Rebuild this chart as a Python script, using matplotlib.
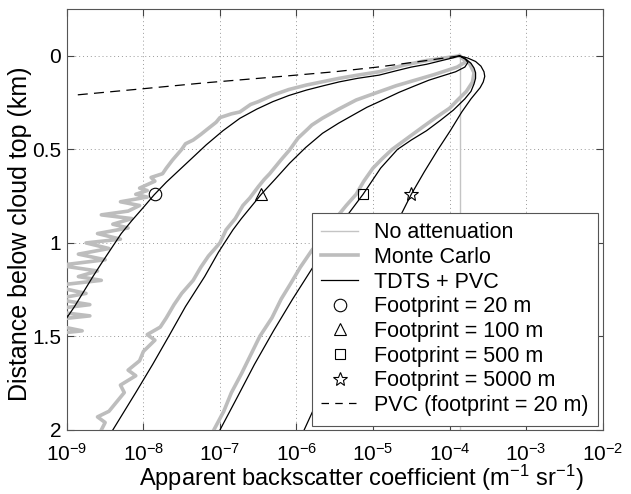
import numpy as np
import matplotlib
matplotlib.use("Agg")
import matplotlib.pyplot as plt
from matplotlib.lines import Line2D

plt.rcParams['font.family'] = ['Liberation Sans', 'DejaVu Sans']
plt.rcParams['mathtext.fontset'] = 'custom'
plt.rcParams['mathtext.rm'] = 'Liberation Sans'
plt.rcParams['mathtext.it'] = 'Liberation Sans'

# (log10 backscatter, depth km)
no_atten_log = -3.86

tdts_20 = [(-3.87, 0.0), (-3.95, 0.01), (-4.1, 0.025), (-4.3, 0.045), (-4.5, 0.06),
           (-4.7, 0.08), (-4.92, 0.103), (-5.2, 0.12), (-5.44, 0.139), (-5.65, 0.16),
           (-5.87, 0.183), (-6.1, 0.212), (-6.31, 0.245), (-6.52, 0.285), (-6.74, 0.334),
           (-6.96, 0.4), (-7.18, 0.476), (-7.36, 0.545), (-7.53, 0.61), (-7.7, 0.675),
           (-7.86, 0.743), (-8.0, 0.81), (-8.15, 0.88), (-8.29, 0.95), (-8.42, 1.03),
           (-8.55, 1.11), (-8.66, 1.18), (-8.78, 1.26), (-8.9, 1.34), (-9.0, 1.40),
           (-9.1, 1.47)]
tdts_100 = [(-3.87, 0.0), (-3.8, 0.015), (-3.76, 0.035), (-3.8, 0.06), (-3.92, 0.085),
            (-4.1, 0.108), (-4.27, 0.13), (-4.47, 0.163), (-4.66, 0.195), (-4.92, 0.245),
            (-5.08, 0.275), (-5.22, 0.307), (-5.45, 0.36), (-5.66, 0.414), (-5.88, 0.49),
            (-6.09, 0.574), (-6.28, 0.66), (-6.46, 0.74), (-6.6, 0.81), (-6.72, 0.87),
            (-6.83, 0.93), (-7.02, 1.05), (-7.2, 1.18), (-7.45, 1.34), (-7.67, 1.5),
            (-7.88, 1.65), (-8.1, 1.8), (-8.4, 2.0)]
tdts_500 = [(-3.87, 0.0), (-3.78, 0.02), (-3.72, 0.04), (-3.68, 0.065), (-3.66, 0.09),
            (-3.66, 0.12), (-3.68, 0.15), (-3.72, 0.19), (-3.8, 0.23), (-3.95, 0.29),
            (-4.12, 0.345), (-4.3, 0.4), (-4.5, 0.45), (-4.68, 0.5), (-4.9, 0.6),
            (-5.13, 0.74), (-5.35, 0.86), (-5.55, 0.99), (-5.77, 1.12), (-6.05, 1.3),
            (-6.3, 1.47), (-6.55, 1.65), (-6.78, 1.83), (-7.0, 2.0)]
tdts_5000 = [(-3.87, 0.0), (-3.76, 0.012), (-3.66, 0.03), (-3.59, 0.055), (-3.55, 0.085),
             (-3.54, 0.11), (-3.56, 0.14), (-3.6, 0.17), (-3.66, 0.2), (-3.72, 0.23),
             (-3.84, 0.3), (-3.99, 0.4), (-4.15, 0.5), (-4.33, 0.62), (-4.5, 0.74),
             (-4.66, 0.87), (-4.8, 1.0), (-5.07, 1.25), (-5.35, 1.5), (-5.62, 1.75),
             (-5.9, 2.0)]

mc_20 = [(-3.87, 0.0), (-4.3, 0.025), (-4.6, 0.05), (-4.92, 0.085), (-5.2, 0.103),
         (-5.44, 0.12), (-5.87, 0.156), (-6.1, 0.18), (-6.31, 0.21), (-6.5, 0.245),
         (-6.6, 0.26), (-6.74, 0.3), (-6.85, 0.31), (-7.0, 0.33), (-7.05, 0.355),
         (-7.18, 0.397), (-7.25, 0.42), (-7.35, 0.45), (-7.45, 0.47), (-7.5, 0.5),
         (-7.62, 0.557), (-7.7, 0.6), (-7.75, 0.63), (-7.9, 0.65), (-7.85, 0.67),
         (-8.05, 0.707), (-7.95, 0.72), (-8.1, 0.74), (-7.95, 0.755), (-8.3, 0.78),
         (-8.05, 0.8), (-8.2, 0.83), (-8.55, 0.85), (-8.15, 0.87), (-8.4, 0.9),
         (-8.2, 0.92), (-8.6, 0.95), (-8.3, 0.98), (-8.75, 1.0), (-8.45, 1.03),
         (-8.85, 1.06), (-8.5, 1.09), (-9.1, 1.12), (-8.6, 1.15), (-8.85, 1.18),
         (-8.55, 1.2), (-9.2, 1.23), (-8.75, 1.27), (-9.15, 1.3), (-8.7, 1.33),
         (-9.3, 1.36), (-8.7, 1.39), (-9.4, 1.42), (-8.8, 1.47), (-9.5, 1.5),
         (-9.15, 1.56), (-9.6, 1.6)]
mc_100 = [(-3.87, 0.0), (-3.78, 0.03), (-3.9, 0.06), (-4.2, 0.1), (-4.45, 0.13),
          (-4.7, 0.16), (-4.92, 0.192), (-5.22, 0.236), (-5.45, 0.285), (-5.66, 0.333),
          (-5.8, 0.37), (-5.85, 0.39), (-5.98, 0.44), (-6.09, 0.503), (-6.2, 0.555),
          (-6.31, 0.61), (-6.35, 0.63), (-6.42, 0.66), (-6.5, 0.7), (-6.61, 0.76),
          (-6.7, 0.8), (-6.8, 0.87), (-6.92, 0.93), (-7.0, 1.0), (-7.15, 1.07),
          (-7.25, 1.13), (-7.35, 1.2), (-7.5, 1.27), (-7.6, 1.33), (-7.7, 1.4),
          (-7.78, 1.45), (-7.95, 1.49), (-7.85, 1.52), (-8.0, 1.58), (-8.05, 1.63),
          (-8.2, 1.68), (-8.1, 1.71), (-8.3, 1.76), (-8.25, 1.8), (-8.35, 1.85),
          (-8.45, 1.9), (-8.6, 1.93), (-8.5, 1.96), (-8.55, 2.0)]
mc_500 = [(-3.87, 0.0), (-3.74, 0.04), (-3.68, 0.09), (-3.7, 0.14), (-3.78, 0.19),
          (-3.88, 0.23), (-4.0, 0.28), (-4.18, 0.33), (-4.35, 0.38), (-4.55, 0.44),
          (-4.75, 0.5), (-4.88, 0.55), (-5.0, 0.6), (-5.12, 0.67), (-5.22, 0.74),
          (-5.35, 0.8), (-5.45, 0.85), (-5.62, 0.95), (-5.8, 1.04), (-5.95, 1.13),
          (-6.08, 1.22), (-6.2, 1.3), (-6.32, 1.4), (-6.48, 1.5), (-6.6, 1.6),
          (-6.72, 1.7), (-6.85, 1.8), (-6.95, 1.9), (-7.08, 2.0)]

pvc_20 = [(-3.87, 0.0), (-4.3, 0.025), (-4.92, 0.059), (-5.5, 0.085), (-6.2, 0.11),
          (-7.22, 0.145), (-7.96, 0.174), (-8.9, 0.21)]

marker_depth = 0.74
footprints = ['20', '100', '500', '5000']
marker_shapes = ['o', '^', 's', '*']
marker_sizes = [9, 9, 7, 10]

fig = plt.figure(figsize=(6.31, 4.94), dpi=100)
ax = fig.add_axes([0.106, 0.1296, 0.849, 0.852])


def xy(pts):
    L, d = zip(*pts)
    return 10.0 ** np.array(L), np.array(d)


ax.plot([10 ** no_atten_log] * 2, [0, 2], color='#c4c4c4', lw=1.0, zorder=2)
for pts in [mc_20, mc_100, mc_500]:
    x, d = xy(pts)
    ax.plot(x, d, color='#bdbdbd', lw=2.6, zorder=3, solid_joinstyle='round')
for pts in [tdts_20, tdts_100, tdts_500, tdts_5000]:
    x, d = xy(pts)
    ax.plot(x, d, color='black', lw=0.9, zorder=4)
x, d = xy(pvc_20)
ax.plot(x, d, color='black', lw=0.9, ls=(0, (8, 5)), zorder=4)

# footprint markers on the TDTS curves
for pts, m, ms in zip([tdts_20, tdts_100, tdts_500, tdts_5000], marker_shapes, marker_sizes):
    L, dd = zip(*pts)
    i = np.argmax(np.array(dd) > 0.3)
    Lm = np.interp(marker_depth, dd[i:], L[i:])
    ax.plot([10 ** Lm], [marker_depth], marker=m, ms=ms, mfc='none', mec='black',
            mew=0.8, ls='none', zorder=5)

ax.set_xscale('log')
ax.set_xlim(1e-9, 1e-2)
ax.set_ylim(2, -0.25)
ax.set_yticks([0, 0.5, 1, 1.5, 2])
ax.set_yticklabels(['0', '0.5', '1', '1.5', '2'])
ax.set_xticks([10.0 ** k for k in range(-9, -1)])
ax.minorticks_off()
ax.grid(True, ls=(0, (1, 3)), color='#999999', lw=0.7)
ax.tick_params(direction='in', top=True, right=True, labelsize=15, length=5,
               color='#444444')
ax.tick_params(axis='y', pad=4)
ax.tick_params(axis='x', pad=9)
for s in ax.spines.values():
    s.set_color('#555555')
    s.set_linewidth(0.8)

ax.set_xlabel('Apparent backscatter coefficient (m$^{-1}$ sr$^{-1}$)', fontsize=17)
ax.set_ylabel('Distance below cloud top (km)', fontsize=18)
ax.xaxis.set_label_coords(0.55, -0.078)
ax.yaxis.set_label_coords(-0.066, 0.466)

handles = [Line2D([], [], color='#c4c4c4', lw=1.0),
           Line2D([], [], color='#bdbdbd', lw=2.6),
           Line2D([], [], color='black', lw=0.9)]
for m, ms in zip(marker_shapes, marker_sizes):
    handles.append(Line2D([], [], marker=m, ms=ms, mfc='none', mec='black', mew=0.8, ls='none'))
handles.append(Line2D([], [], color='black', lw=0.9, ls=(0, (6, 5))))
labels = ['No attenuation', 'Monte Carlo', 'TDTS + PVC'] + \
         ['Footprint = %s m' % f for f in footprints] + ['PVC (footprint = 20 m)']
leg = ax.legend(handles, labels, loc='lower right', fontsize=15.5, frameon=True,
                fancybox=False, framealpha=1, edgecolor='#555555', labelspacing=0.17,
                handlelength=1.7, handletextpad=0.75, borderpad=0.45,
                borderaxespad=0.2)
leg.get_frame().set_linewidth(0.8)
leg.set_zorder(10)

fig.savefig('out.png', dpi=100)
